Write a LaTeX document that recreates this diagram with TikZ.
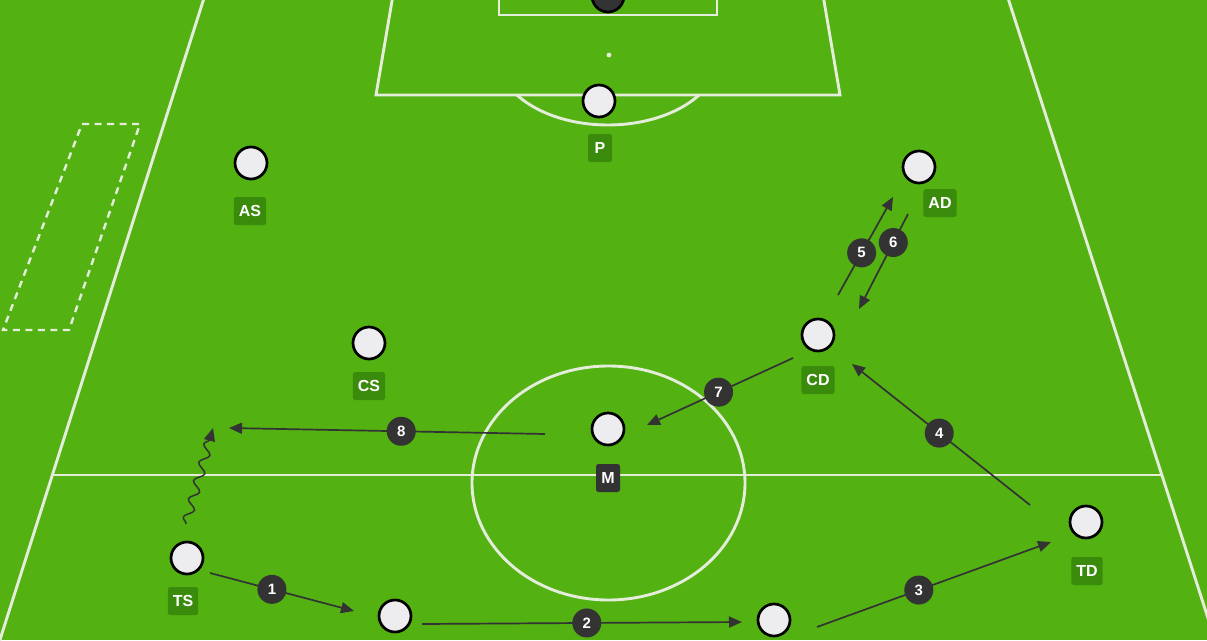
\documentclass[tikz,border=0pt]{standalone}
\usepackage{fontspec}
\setmainfont{Liberation Sans}
\usetikzlibrary{arrows.meta,decorations.pathmorphing}
\definecolor{pitch}{HTML}{53B112}
\definecolor{lbl}{HTML}{3A8A0B}
\definecolor{chalk}{HTML}{E4ECDA}
\definecolor{ink}{HTML}{333333}
\definecolor{pfill}{HTML}{EDEDF0}
\begin{document}
\begin{tikzpicture}[x=1pt,y=-1pt,
  chalkline/.style={draw=chalk,line width=2.9pt},
  player/.style={circle,draw=black,line width=2.7pt,fill=pfill,minimum size=32pt,inner sep=0pt},
  keeper/.style={circle,draw=black,line width=2.7pt,fill=ink,minimum size=32pt,inner sep=0pt},
  tag/.style={fill=lbl,rounded corners=2.5pt,text=white,font=\bfseries\fontsize{16}{16}\selectfont,
    inner xsep=5pt,inner ysep=0pt,minimum height=28pt,minimum width=24pt},
  darktag/.style={tag,fill=ink},
  badge/.style={circle,fill=ink,text=white,font=\bfseries\fontsize{15}{15}\selectfont,minimum size=29pt,inner sep=0pt},
  move/.style={draw=ink,line width=1.7pt,-{Triangle[length=13pt,width=11pt]}},
  dribble/.style={draw=ink,line width=1.5pt,-{Triangle[length=13pt,width=11pt]},
    decorate,decoration={snake,amplitude=4.5pt,segment length=19pt,post length=11pt}}]
\useasboundingbox (0,0) rectangle (1207,640);
\clip (0,0) rectangle (1207,640);
\fill[pitch] (0,0) rectangle (1207,640);

% pitch markings
\draw[chalkline] (205,-5) -- (-2,646);
\draw[chalkline] (1007,-5) -- (1217,646);
\draw[chalkline] (53,475) -- (1161,475);
\draw[chalkline] (608.5,483) ellipse [x radius=136.5, y radius=117];
\draw[chalkline] (393,-5) -- (376,95) -- (840,95) -- (823,-5);
\draw[chalkline] (499,-5) -- (499,15) -- (717,15) -- (717,-5);
\fill[chalk] (609,55) circle [radius=2.4];
\begin{scope}
  \clip (400,96.5) rectangle (820,140);
  \draw[chalkline] (608,55) ellipse [x radius=111, y radius=70];
\end{scope}
\draw[chalk,line width=2.4pt,dash pattern=on 7pt off 5.5pt] (82,124) -- (140,124) -- (69,330) -- (3,330) -- cycle;

% keeper (partly visible)
\node[keeper] (gk) at (608,-4) {};

% players
\node[player] (pP)  at (599,101) {};
\node[player] (pAS) at (251,163) {};
\node[player] (pAD) at (919,167) {};
\node[player] (pCS) at (369,343) {};
\node[player] (pCD) at (818,335) {};
\node[player] (pM)  at (608,429) {};
\node[player] (pTS) at (187,558) {};
\node[player] (pTD) at (1086,522) {};
\node[player] (pB1) at (395,616) {};
\node[player] (pB2) at (774,620) {};

% labels
\node[tag] (lP)  at (600,148) {P};
\node[tag] (lAS) at (250,211) {AS};
\node[tag] (lAD) at (940,203) {AD};
\node[tag] (lCS) at (369,386) {CS};
\node[tag] (lCD) at (818,380) {CD};
\node[darktag] (lM) at (608,478) {M};
\node[tag] (lTS) at (183,601) {TS};
\node[tag] (lTD) at (1087,571) {TD};

% arrow end points
\coordinate (a1s) at (210,573); \coordinate (a1e) at (354,611);
\coordinate (a2s) at (422,624); \coordinate (a2e) at (742,622);
\coordinate (a3s) at (817,627); \coordinate (a3e) at (1051,542);
\coordinate (a4s) at (1030,505); \coordinate (a4e) at (852,364);
\coordinate (a5s) at (838,295); \coordinate (a5e) at (893,197);
\coordinate (a6s) at (908,214); \coordinate (a6e) at (859,309);
\coordinate (a7s) at (793,358); \coordinate (a7e) at (647,425);
\coordinate (a8s) at (545,434); \coordinate (a8e) at (229,428);
\coordinate (ws)  at (186,524); \coordinate (we)  at (213,428);

% moves
\draw[move] (a1s) -- node[badge,pos=0.43] (b1) {1} (a1e);
\draw[move] (a2s) -- node[badge,pos=0.515] (b2) {2} (a2e);
\draw[move] (a3s) -- node[badge,pos=0.435] (b3) {3} (a3e);
\draw[move] (a4s) -- node[badge,pos=0.51] (b4) {4} (a4e);
\draw[move] (a5s) -- node[badge,pos=0.43] (b5) {5} (a5e);
\draw[move] (a6s) -- node[badge,pos=0.30] (b6) {6} (a6e);
\draw[move] (a7s) -- node[badge,pos=0.51] (b7) {7} (a7e);
\draw[move] (a8s) -- node[badge,pos=0.455] (b8) {8} (a8e);
\draw[dribble] (ws) -- (we);
\end{tikzpicture}
\end{document}
